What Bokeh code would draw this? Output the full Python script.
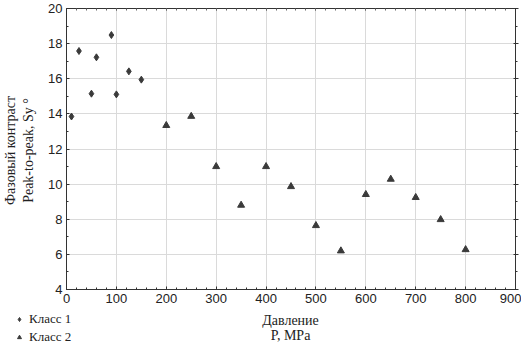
import math
from bokeh.plotting import figure
from bokeh.models import (Range1d, LinearAxis, SingleIntervalTicker, Label, Legend, LegendItem,
                          Grid, BoxAnnotation, CustomJSTickFormatter)
from bokeh.embed import file_html
from bokeh.resources import INLINE

# ---- data ----
class1_x = [10, 25, 50, 60, 90, 100, 125, 150]
class1_y = [13.85, 17.58, 15.15, 17.22, 18.49, 15.11, 16.42, 15.95]
class2_x = [200, 250, 300, 350, 400, 450, 500, 550, 600, 650, 700, 750, 800]
class2_y = [13.34, 13.86, 11.0, 8.80, 11.0, 9.86, 7.64, 6.20, 9.41, 10.28, 9.24, 7.98, 6.27]
legend_labels = ["Класс 1", "Класс 2"]
x_title = ["Давление", "P, MPa"]
y_title = ["Фазовый контраст", "Peak-to-peak, Sy \u00b0"]
x_lim = (0, 900)
y_lim = (4, 20)
x_step = 100
y_step = 2

# ---- layout (pixels inside the figure) ----
W, H = 521, 345
X0, X1, Y0, Y1 = 66, 515, 8, 289          # visual plot box
sx = (X1 - X0) / (x_lim[1] - x_lim[0])
sy = (Y1 - Y0) / (y_lim[1] - y_lim[0])

def xd(px):
    return x_lim[0] + (px - X0) / sx

def yd(py):
    return y_lim[0] - (py - Y1) / sy

DARK = "#333333"
MARK = "#3a3a3a"
GRID = "#dadada"
SANS = "Liberation Sans"
SERIF = "Liberation Serif"

p = figure(width=W, height=H, output_backend="svg", toolbar_location=None,
           x_range=Range1d(xd(0), xd(W)), y_range=Range1d(yd(H), yd(0)),
           min_border=0)
p.title.visible = False
p.background_fill_color = "white"
p.border_fill_color = "white"
p.outline_line_color = None

empty = CustomJSTickFormatter(code="return ''")

# bottom axis
xa = p.xaxis[0]
xa.fixed_location = y_lim[0]
xa.bounds = x_lim
xa.ticker = SingleIntervalTicker(interval=x_step, num_minor_ticks=5)
# left axis
ya = p.yaxis[0]
ya.fixed_location = x_lim[0]
ya.bounds = y_lim
ya.ticker = SingleIntervalTicker(interval=y_step, num_minor_ticks=2)
for ax in (xa, ya):
    ax.axis_line_color = DARK
    ax.major_tick_line_color = DARK
    ax.minor_tick_line_color = DARK
    ax.major_tick_in = 3
    ax.major_tick_out = 0
    ax.minor_tick_in = 2
    ax.minor_tick_out = 0
    ax.major_label_text_font = SANS
    ax.major_label_text_font_size = "13px"
    ax.major_label_text_color = "#222222"
    ax.major_label_standoff = 4

# right axis (ticks only)
ra = LinearAxis(ticker=SingleIntervalTicker(interval=y_step, num_minor_ticks=2),
                fixed_location=x_lim[1], bounds=y_lim, formatter=empty)
ra.axis_line_color = DARK
ra.major_tick_line_color = DARK
ra.minor_tick_line_color = DARK
ra.major_tick_in = 2
ra.major_tick_out = 3
ra.minor_tick_in = 0
ra.minor_tick_out = 2
ra.major_label_standoff = 0
p.add_layout(ra, "right")

# top axis (ticks only)
ta = LinearAxis(ticker=SingleIntervalTicker(interval=x_step, num_minor_ticks=5),
                fixed_location=y_lim[1], bounds=x_lim, formatter=empty)
ta.axis_line_color = DARK
ta.major_tick_line_color = "#666666"
ta.minor_tick_line_color = "#666666"
ta.major_tick_in = 2
ta.major_tick_out = 0
ta.minor_tick_in = 2
ta.minor_tick_out = 0
ta.major_label_standoff = 0
p.add_layout(ta, "above")

# grid
p.xgrid.ticker = SingleIntervalTicker(interval=x_step)
p.ygrid.ticker = SingleIntervalTicker(interval=y_step)
p.xgrid.bounds = x_lim
p.ygrid.bounds = y_lim
p.xgrid.grid_line_color = GRID
p.ygrid.grid_line_color = GRID
if "cross_bounds" in Grid.properties():
    p.xgrid.cross_bounds = y_lim
    p.ygrid.cross_bounds = x_lim
else:
    for kw in (dict(top=y_lim[0]), dict(bottom=y_lim[1]), dict(right=x_lim[0]), dict(left=x_lim[1])):
        p.add_layout(BoxAnnotation(fill_color="white", fill_alpha=1, line_color=None,
                                   level="underlay", **kw))

r1 = p.scatter(class1_x, class1_y, marker="diamond", size=7, color=MARK)
r2 = p.scatter(class2_x, class2_y, marker="triangle", size=7, color=MARK)

# axis titles
for txt, px in zip(y_title, [10, 28]):
    p.add_layout(Label(x=xd(px), y=yd(150), text=txt, angle=math.pi / 2, text_align="center",
                       text_baseline="middle", text_font=SERIF, text_font_size="14px",
                       text_color="#222222"))
for txt, py in zip(x_title, [320, 335]):
    p.add_layout(Label(x=xd(290), y=yd(py), text=txt, text_align="center",
                       text_baseline="middle", text_font=SERIF, text_font_size="14px",
                       text_color="#222222"))

legend = Legend(items=[LegendItem(label=legend_labels[0], renderers=[r1]),
                       LegendItem(label=legend_labels[1], renderers=[r2])],
                location=(14, 0), orientation="vertical",
                glyph_width=10, glyph_height=10, label_height=14, spacing=2,
                padding=0, margin=0, label_standoff=5,
                label_text_font=SERIF, label_text_font_size="13px",
                label_text_color="#222222",
                background_fill_alpha=0, border_line_color=None)
p.add_layout(legend, "center")

open("out.html", "w").write(file_html(p, INLINE))
